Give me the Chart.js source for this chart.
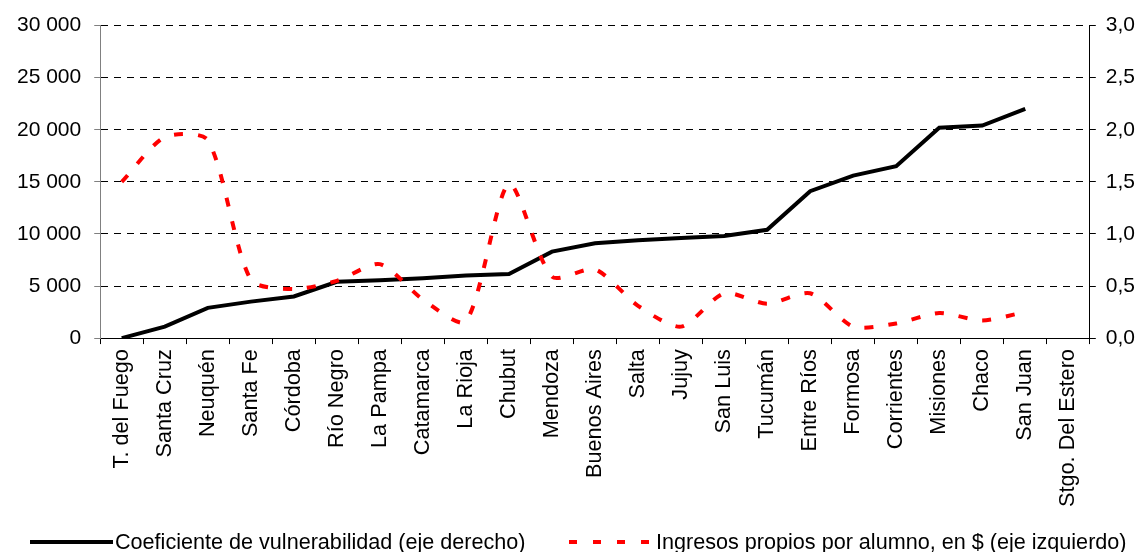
<!DOCTYPE html>
<html>
<head>
<meta charset="utf-8">
<script src="https://cdn.jsdelivr.net/npm/chart.js@4.4.0/dist/chart.umd.min.js"></script>
<style>
    html, body { margin: 0; padding: 0; background: #fff; }
    #wrap { position: relative; width: 1139px; height: 552px; }
    #chart { position: absolute; left: 0; top: 0; }
    .legend { position: absolute; top: 529px; left: 0; width: 1139px; height: 26px;
        font: 21.6px "Liberation Sans", Arial, sans-serif; color: #000; }
    .legend span { position: absolute; top: 0; white-space: nowrap; line-height: 26px; }
    .legend i { position: absolute; height: 4px; top: 11px; }
</style>
</head>
<body>
<div id="wrap">
    <canvas id="chart" width="1139" height="552"></canvas>
    <div class="legend">
        <i style="left:30px;width:83px;background:#000"></i>
        <span style="left:115px">Coeficiente de vulnerabilidad (eje derecho)</span>
        <i style="left:569px;width:80px;background:repeating-linear-gradient(90deg,#ff0000 0 8px,transparent 8px 24px)"></i>
        <span style="left:656px">Ingresos propios por alumno, en $ (eje izquierdo)</span>
    </div>
</div>
<script>
// Provincias (orden del eje X)
const provincias = [
    'T. del Fuego', 'Santa Cruz', 'Neuquén', 'Santa Fe', 'Córdoba', 'Río Negro',
    'La Pampa', 'Catamarca', 'La Rioja', 'Chubut', 'Mendoza', 'Buenos Aires',
    'Salta', 'Jujuy', 'San Luis', 'Tucumán', 'Entre Ríos', 'Formosa',
    'Corrientes', 'Misiones', 'Chaco', 'San Juan', 'Stgo. Del Estero'
];

// Coeficiente de vulnerabilidad (eje derecho)
const coeficiente = [
    0, 0.11, 0.29, 0.35, 0.40, 0.54, 0.555, 0.575, 0.60, 0.615, 0.83, 0.91,
    0.94, 0.96, 0.98, 1.04, 1.41, 1.56, 1.65, 2.02, 2.04, 2.20, null
];

// Ingresos propios por alumno, en $ (eje izquierdo)
const ingresos = [
    15000, 19300, 19000, 5600, 4700, 5500, 7100, 3700, 1600, 14800, 5900, 6600,
    3100, 1100, 4300, 3300, 4300, 1100, 1400, 2400, 1700, 2500, null
];

const ticksIzq = [0, 5000, 10000, 15000, 20000, 25000, 30000];
const ticksDer = [0, 0.5, 1.0, 1.5, 2.0, 2.5, 3.0];

const FONT = { family: '"Liberation Sans", Arial, sans-serif', size: 21 };
const FONT_X = { family: '"Liberation Sans", Arial, sans-serif', size: 21.7 };

function fmtMiles(v) {
    return String(v).replace(/\B(?=(\d{3})+(?!\d))/g, ' ');
}

// Chart.js reserva el padding de ticks dos veces; quitamos el sobrante
function quitarPaddingExtra(s) {
    s.width -= s.options.ticks.padding;
}

new Chart(document.getElementById('chart'), {
    type: 'line',
    data: {
        labels: provincias,
        datasets: [
            {
                label: 'Coeficiente de vulnerabilidad (eje derecho)',
                data: coeficiente,
                yAxisID: 'yDer',
                borderColor: '#000',
                borderWidth: 4,
                pointRadius: 0,
                tension: 0,
                order: 1
            },
            {
                label: 'Ingresos propios por alumno, en $ (eje izquierdo)',
                data: ingresos,
                yAxisID: 'yIzq',
                borderColor: '#ff0000',
                borderWidth: 4,
                borderDash: [9, 15],
                pointRadius: 0,
                tension: 0.25,
                order: 0
            }
        ]
    },
    options: {
        responsive: false,
        animation: false,
        layout: { padding: { top: 13, left: 17, right: 4, bottom: 40 } },
        plugins: {
            legend: { display: false },
            tooltip: { enabled: false }
        },
        scales: {
            x: {
                offset: true,
                afterFit: s => { s.paddingLeft = 0; s.paddingRight = 0; },
                grid: { offset: true, drawOnChartArea: false, tickLength: 6, color: '#000' },
                border: { color: '#000', width: 1 },
                ticks: {
                    font: FONT_X, color: '#000', padding: 5,
                    maxRotation: 90, minRotation: 90, autoSkip: false
                }
            },
            yIzq: {
                position: 'left',
                min: 0, max: 30000,
                afterBuildTicks: s => { s.ticks = ticksIzq.map(v => ({ value: v })); },
                afterFit: quitarPaddingExtra,
                grid: { color: '#000', lineWidth: 1, tickLength: 6, tickColor: '#808080', tickBorderDash: [] },
                border: { color: '#808080', width: 1, dash: [7, 6] },
                ticks: { font: FONT, color: '#000', padding: 13, callback: v => fmtMiles(v) }
            },
            yDer: {
                position: 'right',
                min: 0, max: 3,
                afterBuildTicks: s => { s.ticks = ticksDer.map(v => ({ value: v })); },
                afterFit: quitarPaddingExtra,
                grid: { drawOnChartArea: false, color: '#000', tickLength: 6 },
                border: { color: '#000', width: 1 },
                ticks: { font: FONT, color: '#000', padding: 10, callback: v => v.toFixed(1).replace('.', ',') }
            }
        }
    }
});
</script>
</body>
</html>
